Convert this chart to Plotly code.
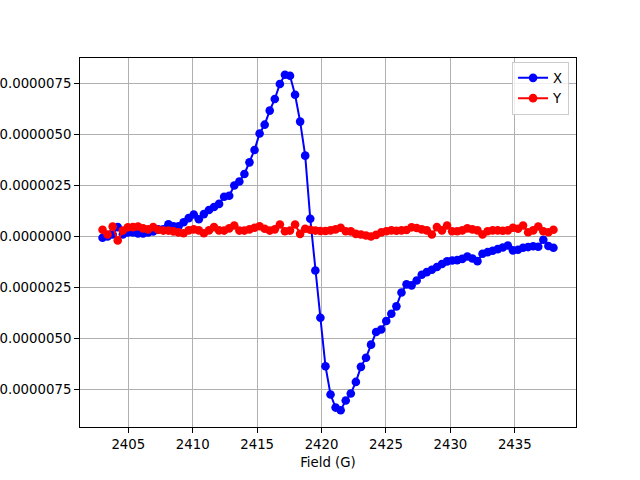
import numpy as np
import plotly.graph_objects as go

# Field values (G)
field = list(np.linspace(2403, 2438, 90))

# Signal values in units of 1e-6
x_signal = [-0.06, 0.0, 0.1, 0.46, 0.1, 0.2, 0.2, 0.15, 0.15, 0.2,
            0.25, 0.35, 0.35, 0.6, 0.5, 0.5, 0.7, 0.9, 1.08, 0.85,
            1.1, 1.3, 1.45, 1.6, 1.95, 2.0, 2.5, 2.7, 3.07, 3.64,
            4.25, 5.06, 5.49, 6.18, 6.75, 7.49, 7.94, 7.89, 6.96, 5.64,
            3.97, 0.87, -1.67, -3.99, -6.37, -7.76, -8.40, -8.53, -8.05, -7.71,
            -7.14, -6.4, -5.95, -5.31, -4.69, -4.57, -4.15, -3.79, -3.43, -2.75,
            -2.35, -2.40, -2.16, -1.88, -1.75, -1.63, -1.5, -1.35, -1.22, -1.18,
            -1.16, -1.1, -0.98, -1.08, -1.21, -0.85, -0.77, -0.70, -0.62, -0.54,
            -0.44, -0.68, -0.65, -0.55, -0.52, -0.48, -0.50, -0.16, -0.47, -0.55]

y_signal = [0.33, 0.1, 0.49, -0.2, 0.29, 0.45, 0.46, 0.49, 0.4, 0.35,
            0.46, 0.33, 0.29, 0.29, 0.25, 0.2, 0.16, 0.3, 0.35, 0.3,
            0.16, 0.3, 0.46, 0.3, 0.29, 0.4, 0.54, 0.29, 0.29, 0.35,
            0.43, 0.5, 0.38, 0.29, 0.35, 0.59, 0.26, 0.29, 0.59, 0.13,
            0.38, 0.33, 0.29, 0.27, 0.27, 0.3, 0.35, 0.43, 0.26, 0.25,
            0.13, 0.1, 0.05, 0.0, 0.08, 0.2, 0.26, 0.3, 0.28, 0.3,
            0.32, 0.45, 0.42, 0.35, 0.3, 0.1, 0.46, 0.3, 0.54, 0.26,
            0.26, 0.3, 0.4, 0.35, 0.3, 0.1, 0.26, 0.3, 0.3, 0.28,
            0.3, 0.43, 0.38, 0.54, 0.21, 0.3, 0.49, 0.26, 0.21, 0.33]

scale = 1e-6
xs = [v * scale for v in x_signal]
ys = [v * scale for v in y_signal]

ytick_vals = [-7.5e-6, -5e-6, -2.5e-6, 0.0, 2.5e-6, 5e-6, 7.5e-6]
ytick_text = ["\u22120.0000075", "\u22120.0000050", "\u22120.0000025", "0.0000000",
              "0.0000025", "0.0000050", "0.0000075"]
xtick_vals = [2405, 2410, 2415, 2420, 2425, 2430, 2435]

fig = go.Figure()
fig.add_trace(go.Scatter(x=field, y=xs, mode="lines+markers", name="X",
                         line=dict(color="#0000ff", width=2),
                         marker=dict(color="#0000ff", size=8.6)))
fig.add_trace(go.Scatter(x=field, y=ys, mode="lines+markers", name="Y",
                         line=dict(color="#ff0000", width=2),
                         marker=dict(color="#ff0000", size=8.6)))

allv = xs + ys
lo, hi = min(allv), max(allv)
pad = 0.05 * (hi - lo)
xlo, xhi = min(field), max(field)
xpad = 0.05 * (xhi - xlo)

font = "DejaVu Sans"
fig.update_layout(
    width=640, height=480,
    margin=dict(l=80, r=64, t=57.6, b=52.8, autoexpand=False),
    paper_bgcolor="white", plot_bgcolor="white",
    font=dict(family=font, size=13.3, color="black"),
    showlegend=True,
    legend=dict(x=0.986, y=0.99, xanchor="right", yanchor="top",
                bgcolor="rgba(255,255,255,0.8)", bordercolor="#cccccc", borderwidth=1,
                font=dict(family=font, size=13.3), tracegroupgap=0,
                itemwidth=30),
    xaxis=dict(range=[xlo - xpad, xhi + xpad], tickvals=xtick_vals,
               ticktext=[str(v) for v in xtick_vals],
               showgrid=True, gridcolor="#b0b0b0", gridwidth=0.8,
               showline=True, linecolor="black", linewidth=1.1, mirror=True,
               ticks="outside", ticklen=4.9, tickwidth=1.1, tickcolor="black",
               zeroline=False, automargin=False,
               title=dict(text="Field (G)", font=dict(family=font, size=13.3), standoff=6)),
    yaxis=dict(range=[lo - pad, hi + pad], tickvals=ytick_vals, ticktext=ytick_text,
               showgrid=True, gridcolor="#b0b0b0", gridwidth=0.8,
               showline=True, linecolor="black", linewidth=1.1, mirror=True,
               ticks="outside", ticklen=4.9, tickwidth=1.1, tickcolor="black",
               zeroline=False, automargin=False),
)

fig.write_html("out.html", config={"displayModeBar": False},
               post_script="document.body.style.margin='0';")
